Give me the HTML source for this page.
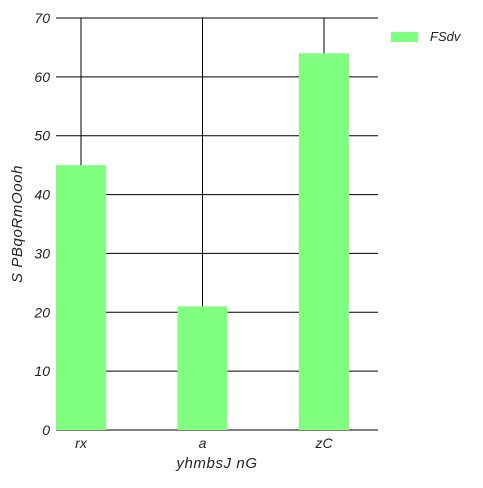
<!DOCTYPE html>
<html><head><meta charset="utf-8"><style>
body{margin:0;background:#fff;}
svg text{font-family:"Liberation Sans",sans-serif;font-style:italic;fill:#222;}
</style></head><body>
<svg width="483" height="483">
<g id="grid"></g><g id="bars"></g><g id="labels"></g>
<rect x="391" y="32" width="27" height="10" fill="#80ff80"/>
<text x="430" y="41" font-size="13">FSdv</text>
<text x="217" y="468" font-size="15" letter-spacing="0.6" text-anchor="middle">yhmbsJ  nG</text>
<text transform="translate(22,224) rotate(-90)" font-size="15" letter-spacing="0.6" text-anchor="middle">S  PBqoRmOooh</text>
</svg>
<script>
const categories=["rx","a","zC"];
const values=[45,21,64];
const yTicks=[0,10,20,30,40,50,60,70];
const NS="http://www.w3.org/2000/svg";
const x0=56,x1=378,yTop=18,yBot=430,yMax=70;
const y=v=>yBot-(v/yMax)*(yBot-yTop);
const xc=i=>81+i*121.5;
function mk(t,a,p){const e=document.createElementNS(NS,t);for(const k in a)e.setAttribute(k,a[k]);p.appendChild(e);return e;}
const g=document.getElementById('grid'),b=document.getElementById('bars'),l=document.getElementById('labels');
yTicks.forEach(t=>{
 const ln=mk('line',{x1:x0,x2:x1,y1:y(t),y2:y(t),stroke:'#000','stroke-width':1},g);
 
 
 const tx=mk('text',{x:50,y:y(t)+5,'font-size':14,'text-anchor':'end'},l);
 tx.textContent=t;
 
 
});
categories.forEach((c,i)=>{
 const ln=mk('line',{x1:xc(i),x2:xc(i),y1:yTop,y2:yBot,stroke:'#000','stroke-width':1},g);
 
 
 const r=mk('rect',{x:xc(i)-25,y:y(values[i]),width:50,height:yBot-y(values[i]),fill:'#80ff80'},b);
 
 
 const tx=mk('text',{x:xc(i),y:448,'font-size':14,'text-anchor':'middle'},l);
 tx.textContent=c;
 
 
});
</script>
</body></html>
